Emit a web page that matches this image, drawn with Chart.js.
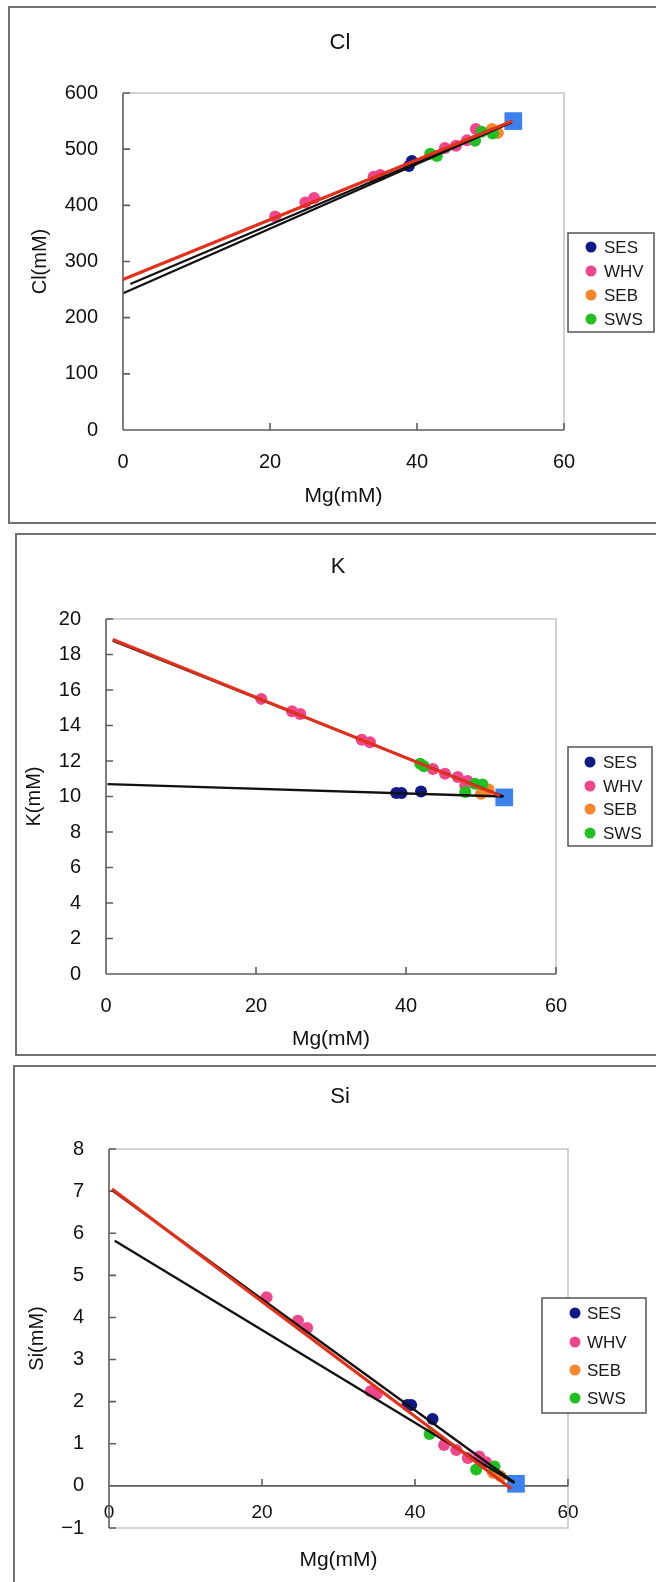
<!DOCTYPE html>
<html><head><meta charset="utf-8">
<script src="https://cdn.jsdelivr.net/npm/chart.js@4.4.1/dist/chart.umd.min.js"></script>
<style>
html,body{margin:0;padding:0;background:#fff;width:656px;height:1582px;overflow:hidden;position:relative}
.frame{position:absolute;border:2px solid #707070;box-sizing:border-box}
canvas{position:absolute;left:0}
</style></head><body>
<div class="frame" style="left:8px;top:6px;width:660px;height:518px"></div>
<div class="frame" style="left:15px;top:533px;width:660px;height:523px"></div>
<div class="frame" style="left:13px;top:1065px;width:660px;height:540px"></div>
<canvas id="c1" width="656" height="530" style="top:0px"></canvas>
<canvas id="c2" width="656" height="530" style="top:530px"></canvas>
<canvas id="c3" width="656" height="522" style="top:1060px"></canvas>
<script>
// ---------- DATA ----------
const seriesNames = ['SES', 'WHV', 'SEB', 'SWS'];
const seriesColors = ['#0d1a86', '#f0468c', '#f7862a', '#22bf22'];
const mgTicks = [0, 20, 40, 60];
const clYTicks = [0, 100, 200, 300, 400, 500, 600];
const kYTicks = [0, 2, 4, 6, 8, 10, 12, 14, 16, 18, 20];
const siYTicks = [-1, 0, 1, 2, 3, 4, 5, 6, 7, 8];

// Cl vs Mg  [Mg, Cl]
const clSES = [[38.9, 470], [39.3, 479]];
const clWHV = [[20.7, 380], [24.8, 405], [26.0, 413], [34.1, 451], [35.0, 454], [43.8, 502], [45.3, 506], [46.8, 516], [48.0, 536]];
const clSEB = [[50.2, 536], [51.0, 529]];
const clSWS = [[41.8, 492], [42.7, 488], [47.9, 515], [48.8, 531], [50.3, 528]];
const clSeawater = [[53.1, 550]];
const clBlack1 = [[1.0, 260], [52.9, 548]];
const clBlack2 = [[0.1, 244], [52.9, 548]];
const clRed = [[0.0, 268], [53.0, 550]];

// K vs Mg  [Mg, K]
const kSES = [[38.7, 10.2], [39.4, 10.2], [42.0, 10.28]];
const kWHV = [[20.7, 15.5], [24.8, 14.8], [25.9, 14.65], [34.1, 13.2], [35.2, 13.05], [43.6, 11.55], [45.2, 11.28], [46.9, 11.1], [48.2, 10.88], [47.9, 10.62]];
const kSEB = [[50.0, 10.15], [51.0, 10.4]];
const kSWS = [[41.9, 11.85], [42.4, 11.7], [47.9, 10.25], [49.2, 10.72], [50.2, 10.68]];
const kSeawater = [[53.1, 9.95]];
const kBlack1 = [[0.9, 18.78], [53.0, 10.0]];
const kBlack2 = [[0.2, 10.7], [53.0, 10.0]];
const kRed = [[0.9, 18.84], [52.5, 10.05]];

// Si vs Mg  [Mg, Si]
const siSES = [[39.0, 1.92], [39.5, 1.92], [42.3, 1.59]];
const siWHV = [[20.6, 4.48], [24.7, 3.92], [25.9, 3.75], [34.2, 2.25], [35.0, 2.18], [43.8, 0.97], [45.4, 0.85], [46.9, 0.66], [48.4, 0.7], [49.3, 0.56]];
const siSEB = [[50.2, 0.31], [51.2, 0.23]];
const siSWS = [[41.9, 1.23], [48.0, 0.39], [50.4, 0.46]];
const siSeawater = [[53.2, 0.05]];
const siBlack1 = [[0.4, 7.02], [53.0, 0.08]];
const siBlack2 = [[0.75, 5.82], [53.0, 0.07]];
const siRed = [[0.4, 7.05], [52.6, -0.07]];

// ---------- RENDER ----------
const FONT = '"Liberation Sans", Arial, sans-serif';
const pts = a => a.map(p => ({x: p[0], y: p[1]}));

function buildDatasets(series, sea, blacks, red) {
  const ds = [];
  series.forEach((s, i) => ds.push({
    label: seriesNames[i], data: pts(s), legend: true,
    backgroundColor: seriesColors[i], borderWidth: 0, pointRadius: 6,
    order: 6 - i
  }));
  ds.push({label: 'seawater', data: pts(sea), pointStyle: 'rect', pointRadius: 12.5,
    backgroundColor: '#3b82ee', borderWidth: 0, order: 2});
  blacks.forEach(b => ds.push({label: 'line', data: pts(b), showLine: true, pointRadius: 0,
    borderColor: '#111', borderWidth: 2.3, fill: false, order: 1}));
  ds.push({label: 'line', data: pts(red), showLine: true, pointRadius: 0,
    borderColor: '#e3301a', borderWidth: 3.2, fill: false, order: 0});
  return ds;
}

const decor = {
  id: 'decor',
  beforeDatasetsDraw(chart, args, o) {
    const {ctx, chartArea: {left, right, top, bottom}, scales: {x, y}} = chart;
    const axisY = o.zeroAxis ? y.getPixelForValue(0) : bottom;
    ctx.save();
    ctx.lineWidth = 1.6;
    ctx.strokeStyle = '#c6c6c6';
    ctx.beginPath();
    ctx.moveTo(left, top); ctx.lineTo(right, top); ctx.lineTo(right, bottom);
    if (o.zeroAxis) ctx.lineTo(left, bottom);
    ctx.stroke();
    ctx.strokeStyle = '#5e5e5e';
    ctx.beginPath();
    ctx.moveTo(left, top); ctx.lineTo(left, bottom);
    ctx.moveTo(left, axisY); ctx.lineTo(right, axisY);
    y.ticks.forEach(t => { const py = y.getPixelForValue(t.value); ctx.moveTo(left, py); ctx.lineTo(left + 7, py); });
    x.ticks.forEach(t => { const px = x.getPixelForValue(t.value); ctx.moveTo(px, axisY); ctx.lineTo(px, axisY - 7); });
    ctx.stroke();
    ctx.restore();
  },
  afterDraw(chart, args, o) {
    const {ctx, chartArea: {left, right, top, bottom}} = chart;
    ctx.save();
    ctx.fillStyle = '#111';
    ctx.textAlign = 'center'; ctx.textBaseline = 'middle';
    ctx.font = '22px ' + FONT;
    ctx.fillText(o.title, o.titleX, o.titleY);
    ctx.font = '21px ' + FONT;
    ctx.fillText(o.xTitle, (left + right) / 2, o.xTitleY);
    ctx.font = '20px ' + FONT;
    ctx.save();
    ctx.translate(o.yTitleX, (top + bottom) / 2);
    ctx.rotate(-Math.PI / 2);
    ctx.fillText(o.yTitle, 0, 0);
    ctx.restore();
    // legend
    const L = o.legend;
    ctx.fillStyle = '#fff';
    ctx.fillRect(L.x1, L.y1, L.x2 - L.x1, L.y2 - L.y1);
    ctx.strokeStyle = '#555'; ctx.lineWidth = 1.5;
    ctx.strokeRect(L.x1, L.y1, L.x2 - L.x1, L.y2 - L.y1);
    const items = chart.data.datasets.filter(d => d.legend);
    ctx.font = '17px ' + FONT; ctx.textAlign = 'left';
    items.forEach((d, i) => {
      ctx.fillStyle = d.backgroundColor;
      ctx.beginPath(); ctx.arc(L.mx, L.ys[i], 5.5, 0, Math.PI * 2); ctx.fill();
      ctx.fillStyle = '#1a1a1a';
      ctx.fillText(d.label, L.tx, L.ys[i] + 1);
    });
    ctx.restore();
  }
};

function makeChart(id, o) {
  return new Chart(document.getElementById(id), {
    type: 'scatter',
    data: {datasets: o.datasets},
    options: {
      responsive: false, animation: false, events: [],
      layout: {padding: o.padding},
      plugins: {legend: {display: false}, tooltip: {enabled: false}, decor: o.decor},
      scales: {
        x: {
          type: 'linear', axis: 'x', position: o.xPos, min: 0, max: 60,
          afterBuildTicks: s => { s.ticks = mgTicks.map(v => ({value: v})); },
          ticks: {padding: o.xPad, font: {family: FONT, size: o.xFont}, color: '#111', autoSkip: false, maxRotation: 0},
          grid: {display: false, drawTicks: false}, border: {display: false},
          afterFit: s => { if (o.xHeight) s.height = o.xHeight; }
        },
        y: {
          type: 'linear', position: 'left', min: o.yTicks[0], max: o.yTicks[o.yTicks.length - 1],
          afterBuildTicks: s => { s.ticks = o.yTicks.map(v => ({value: v})); },
          ticks: {padding: 25, font: {family: FONT, size: 20}, color: '#111', autoSkip: false,
            callback: v => v < 0 ? '\u2212' + (-v) : String(v)},
          grid: {display: false, drawTicks: false}, border: {display: false},
          afterFit: s => { s.width = o.yWidth; }
        }
      }
    },
    plugins: [decor]
  });
}

makeChart('c1', {
  datasets: buildDatasets([clSES, clWHV, clSEB, clSWS], clSeawater, [clBlack1, clBlack2], clRed),
  padding: {left: 10, top: 93, right: 92, bottom: 0},
  yWidth: 113, xHeight: 100, xPos: 'bottom', xPad: 20, xFont: 20, yTicks: clYTicks,
  decor: {title: 'Cl', titleX: 340, titleY: 43, xTitle: 'Mg(mM)', xTitleY: 496, yTitle: 'Cl(mM)', yTitleX: 40,
    legend: {x1: 568, x2: 654, y1: 233, y2: 332, ys: [247, 271, 295, 319], mx: 591, tx: 604}}
});
makeChart('c2', {
  datasets: buildDatasets([kSES, kWHV, kSEB, kSWS], kSeawater, [kBlack1, kBlack2], kRed),
  padding: {left: 10, top: 89, right: 100, bottom: 0},
  yWidth: 96, xHeight: 86, xPos: 'bottom', xPad: 20, xFont: 20, yTicks: kYTicks,
  decor: {title: 'K', titleX: 338, titleY: 37, xTitle: 'Mg(mM)', xTitleY: 509, yTitle: 'K(mM)', yTitleX: 34,
    legend: {x1: 568, x2: 652, y1: 217, y2: 316, ys: [232, 256, 279, 303], mx: 590, tx: 603}}
});
makeChart('c3', {
  datasets: buildDatasets([siSES, siWHV, siSEB, siSWS], siSeawater, [siBlack1, siBlack2], siRed),
  padding: {left: 10, top: 89, right: 88, bottom: 54},
  yWidth: 99, xHeight: 0, xPos: {y: 0}, xPad: 15.5, xFont: 19, yTicks: siYTicks,
  decor: {title: 'Si', titleX: 340, titleY: 37, xTitle: 'Mg(mM)', xTitleY: 500, yTitle: 'Si(mM)', yTitleX: 37, zeroAxis: true,
    legend: {x1: 542, x2: 646, y1: 238, y2: 353, ys: [253, 282, 310, 338], mx: 575, tx: 587}}
});
</script>
</body></html>
